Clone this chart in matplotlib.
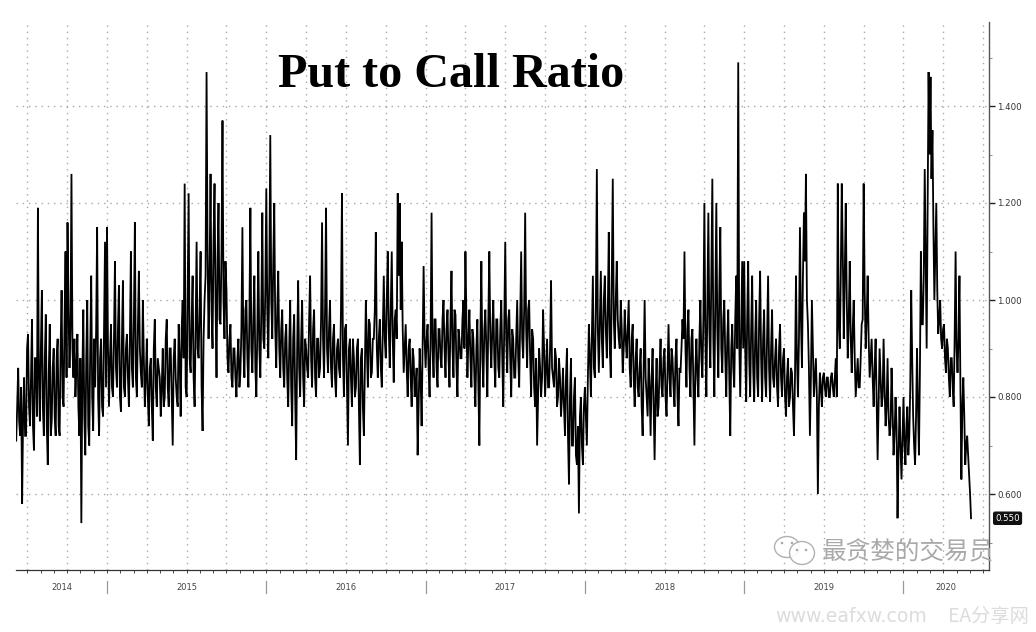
"""put to call ratio, daily line 2014-2020."""
import matplotlib
matplotlib.use("Agg")
import matplotlib.pyplot as plt
import numpy as np
from matplotlib.patches import Circle, Ellipse
from matplotlib.transforms import IdentityTransform, blended_transform_factory

plt.rcParams["font.family"] = ["Noto Sans CJK SC", "DejaVu Sans"]

TITLE = "Put to Call Ratio"
YEARS = [2014, 2015, 2016, 2017, 2018, 2019, 2020]
Y_TICKS = [0.6, 0.8, 1.0, 1.2, 1.4]
Y_MINOR = [0.5, 0.7, 0.9, 1.1, 1.3, 1.5]
LAST = 0.55

# spikes and troughs, one row is about 20 px
V2014 = [.71, .86, .72, .58, .84, .72, .93, .74, .96, .69,
         .88, 1.19, .75, 1.02, .72, .97, .66, .95, .75, .90,
         .72, .92, .72, 1.02, .78, 1.10, 1.16, .86, 1.26, .84,
         .80, .93, .72, .54, .98, .68, 1.0, .70, 1.05, .73,
         .82, 1.15, .72, .92, .76, 1.12]
V2015 = [1.15, .78, .95, .80, 1.08, .82, 1.03, .77, 1.04, .80,
         .93, .78, 1.10, .82, 1.16, .80, 1.06, .85, 1.00, .78,
         .92, .74, .88, .71, .96, .78, .86, .76, .90, .80,
         .96, .78, .90, .70, .92, .80, .95, .76, 1.0, 1.24,
         .80, 1.22, .85, 1.05, .78, 1.12, .88, 1.10, .73, 1.0,
         1.47, .92, 1.26, .90, 1.24, .84, 1.20, .95, 1.37, .92,
         1.02, .85, .95, .82, .90, .80, .92, .85, 1.15, .84,
         1.0, .82, 1.19, .85, 1.05, .80, 1.10, .84, 1.18, .90]
V2016 = [1.23, .88, 1.34, .92, 1.20, .86, 1.06, .84, .98, .82,
         .95, .78, 1.0, .74, .97, .67, 1.04, .80, 1.0, .78,
         .90, .84, 1.05, .82, .98, .80, .92, .86, 1.16, .84,
         1.19, .85, 1.0, .82, .95, .80, .92, .84, 1.22, .80,
         .95, .70, .92, .78, .88, .82, .92, .66, .90, .72,
         1.0, .82, .95, .85, .92, 1.14, .84, .96, .82, 1.05,
         .88, 1.1, .86, 1.1, .83, .98, 1.22, 1.2, 1.12, .85,
         .95, .80, .92, .78, .88, .82, .68, .90, .74, 1.07]
V2017 = [.86, .95, .80, 1.18, .84, .96, .82, .94, .86, 1.0,
         .84, .98, .82, 1.06, .84, .97, .80, .92, .88, 1.0,
         1.1, .84, .98, .82, .92, .78, .96, .70, 1.08, .82,
         .98, .80, 1.1, .86, 1.0, .82, .96, .84, 1.0, .78,
         1.12, .85, .98, .80, .92, .84, 1.0, .82, 1.1, .88,
         1.18, .86, 1.0, .80, .92, .78, .70, .90, .80, .98,
         .80, .92, .82, 1.04, .84, .90, .78, .88, .76, .86,
         .72, .90, .62, .88, .70, .84, .66, .56, .80, .66]
V2018 = [.82, .70, .95, .80, 1.05, .84, 1.27, .85, 1.06, .86,
         1.05, .88, 1.14, .84, 1.25, .90, 1.08, .92, 1.0, .85,
         .98, .88, 1.0, .82, .95, .78, .92, .80, .90, .72,
         1.0, .80, .88, .72, .90, .67, .88, .78, .92, .80,
         .90, .76, .95, .80, .88, .78, .92, .74, .85, .96,
         1.1, .82, .98, .80, .94, .70, .92, .80, 1.0, .84,
         1.2, .80, 1.18, .86, 1.25, .80, 1.2, .84, 1.15, .85,
         1.0, .80, .98, .72, .95, .82, 1.05, 1.49, .80, 1.08]
V2019 = [1.08, .79, 1.08, .80, 1.05, .79, 1.0, .80, 1.06, .79,
         .98, .80, 1.05, .79, .98, .82, .92, .78, .95, .80,
         .90, .76, .88, .80, .85, .72, 1.05, .80, 1.15, .86,
         1.18, 1.26, .95, .72, 1.0, .80, .88, .60, .85, .78,
         .85, .80, .84, .80, .85, .80, .88, 1.24, .90, 1.24,
         .92, 1.2, .88, 1.08, .85, 1.0, .80, .88, .82, .95,
         1.24, .90, 1.05, .84, .92, .78, .92, .67, .90, .78,
         .92, .74, .88, .72, .86, .68, .80, .55, .78, .63]
V2020 = [.80, .66, .78, .72, 1.02, .76, .66, .90, .68, 1.1,
         .95, 1.27, .90, 1.47, 1.46, 1.35, 1.0, 1.2, .93, 1.0,
         .90, .95, .85, .90, .80, .88, .78, 1.1, .85, 1.05,
         .63, .84, .66, .72, .64, .55]

# the dense black band between the spikes
C2014 = [.78, .75, .82, .76, .72, .90, .78, .84, .74, .88,
         .76, .84, .90, .78, .88, .74, .85, .72, .86, .76,
         .88, .74, .90, .80, .96, .84, .98, .94, .90, .92,
         .86, .78, .88, .84, .76, .88, .74, .90, .80, .92,
         .94, .80, .88, .78, .94, .82]
C2015 = [.90, .88, .82, .92, .86, .94, .80, .92, .82, .90,
         .84, .92, .86, .96, .84, .94, .90, .82, .88, .84,
         .80, .86, .78, .90, .82, .88, .84, .82, .78, .92,
         .82, .90, .80, .88, .84, .78, .88, .94, .88, .82,
         1.0, .88, .96, .84, .94, .90, .98, .82, .92, 1.05,
         1.1, 1.05, .98, 1.12, 1.0, 1.08, .96, 1.1, 1.0, 1.08,
         .88, .92, .84, .90, .84, .88, .82, .94, .90, .98,
         .88, .96, .90, .96, .86, .94, .90, .98, .92, 1.02]
C2016 = [.98, 1.05, 1.0, 1.08, .94, .98, .90, .94, .86, .92,
         .84, .90, .82, .92, .80, .90, .86, .92, .84, .92,
         .86, .96, .88, .94, .84, .92, .84, .96, .92, .98,
         .90, .94, .86, .92, .84, .90, .86, .98, .88, .94,
         .82, .90, .84, .92, .80, .90, .78, .88, .78, .86,
         .90, .96, .84, .92, .98, .90, .92, .86, .94, .92,
         1.0, .94, .98, .92, .96, .92, 1.05, .98, .94, .90,
         .86, .90, .84, .90, .80, .86, .78, .84, .90, .92]
C2017 = [.92, .86, .92, .90, .96, .86, .94, .88, .96, .90,
         .94, .88, .96, .90, .98, .86, .94, .88, .96, .90,
         .96, .92, .88, .94, .84, .90, .82, .92, .88, .94,
         .90, .96, .92, .94, .88, .96, .86, .94, .88, .96,
         .92, .96, .88, .94, .84, .92, .88, .96, .92, .98,
         .94, .98, .88, .94, .82, .88, .80, .86, .84, .90,
         .86, .82, .90, .86, .82, .88, .80, .84, .80, .78,
         .84, .72, .80, .70, .80, .68, .74, .76, .70, .78]
C2018 = [.76, .84, .88, .92, .86, .98, .94, .96, .92, 1.0,
         .94, .98, .90, 1.05, .96, 1.0, .96, .90, .94, .90,
         .92, .94, .86, .92, .84, .88, .82, .86, .78, .86,
         .84, .76, .82, .84, .78, .80, .76, .86, .82, .88,
         .80, .86, .84, .90, .82, .88, .80, .86, .90, .92,
         .90, .94, .86, .92, .82, .86, .84, .92, .88, .96,
         .92, 1.0, .94, 1.05, .92, 1.0, .94, 1.02, .90, .96,
         .88, .92, .84, .90, .86, .96, .90, .92, .94, .90]
C2019 = [.90, .96, .88, .94, .86, .92, .84, .96, .88, .92,
         .84, .92, .86, .90, .84, .88, .82, .90, .84, .88,
         .80, .84, .78, .86, .78, .84, .88, .92, .96, 1.05,
         1.08, 1.0, .86, .84, .90, .84, .80, .78, .82, .84,
         .82, .84, .80, .84, .82, .84, .80, .95, 1.05, 1.1,
         1.05, 1.0, .96, .92, .94, .88, .84, .82, .88, .96,
         1.02, .96, .92, .88, .84, .86, .80, .78, .84, .80,
         .82, .78, .76, .74, .78, .72, .74, .68, .70, .72]
C2020 = [.70, .74, .68, .82, .88, .70, .76, .78, .85, .95,
         1.05, 1.08, 1.2, 1.3, 1.25, 1.15, 1.1, 1.02, .96, .92,
         .94, .88, .92, .84, .88, .82, .92, .90, .92, .82,
         .78, .76, .70, .68, .60]

SERIES = [V2014, V2015, V2016, V2017, V2018, V2019, V2020]
BAND = [C2014, C2015, C2016, C2017, C2018, C2019, C2020]
SPANS = [(2014.43, 2015), (2015, 2016), (2016, 2017), (2017, 2018),
         (2018, 2019), (2019, 2020), (2020, 2020.43)]

W, H = 1036, 632
fig = plt.figure(figsize=(W / 100, H / 100), dpi=100)
ax = fig.add_axes([16 / W, 1 - 570 / H, (989 - 16) / W, (570 - 22) / H])

xs, ys = [], []
for vals, band, (a, b) in zip(SERIES, BAND, SPANS):
    merged = np.empty(len(vals) + len(band))
    merged[0::2] = vals
    merged[1::2] = band
    xs.extend(np.linspace(a, b, len(merged), endpoint=False))
    ys.extend(merged)
ax.plot(xs, ys, color="black", lw=1.3, solid_joinstyle="miter", zorder=3)

x0 = 2015 - 91 / 159.3
x1 = 2015 + 882 / 159.3
ax.set_xlim(x0, x1)
ax.set_ylim(0.6 - 76 / 485, 1.4 + 84 / 485)

for s in ["left", "top"]:
    ax.spines[s].set_visible(False)
ax.spines["right"].set_color("#555555")
ax.spines["right"].set_linewidth(1.0)
ax.spines["bottom"].set_color("#333333")
ax.spines["bottom"].set_linewidth(0.9)

ax.yaxis.tick_right()
ax.set_yticks(Y_TICKS)
ax.set_yticklabels([f"{v:.3f}" for v in Y_TICKS], fontsize=6.2, color="#333333",
                   family="DejaVu Sans")
ax.set_yticks(Y_MINOR, minor=True)
ax.tick_params(axis="y", which="major", length=4, width=1.0, color="#222222", pad=2)
ax.tick_params(axis="y", which="minor", length=2, width=0.6, color="#777777")

# quarters carry the grid, months only a tick
quarters = np.arange(2014.5, 2020.6, 0.25)
months = np.arange(2014.5, 2020.55, 1 / 12)
ax.set_xticks(quarters)
ax.set_xticklabels([])
ax.set_xticks(months, minor=True)
ax.tick_params(axis="x", which="both", length=2.2, width=0.7, color="#444444")
ax.grid(True, which="major", color="#a8a8a8", lw=1.0, ls=(0, (1, 3.5)))
ax.set_axisbelow(True)

# year labels and separators under the axis
tr = blended_transform_factory(ax.transData, fig.transFigure)
for i, yr in enumerate(YEARS):
    a = max(yr, x0)
    b = min(yr + 1, x1)
    fig.text((a + b) / 2, 1 - 588 / H, str(yr), transform=tr, fontsize=6.0,
             color="#444444", ha="center", va="center", family="DejaVu Sans")
    if i > 0:
        fig.add_artist(plt.Line2D([yr, yr], [1 - 581 / H, 1 - 593 / H], transform=tr,
                                  color="#999999", lw=0.9))

ax.annotate(f"{LAST:.3f}", xy=(1, LAST), xycoords=("axes fraction", "data"),
            xytext=(4.5, 0), textcoords="offset points", fontsize=6.2, color="white",
            va="center", ha="left", family="DejaVu Sans",
            bbox=dict(boxstyle="round,pad=0.18", fc="#111111", ec="#111111"))

fig.text(278 / W, 1 - 75 / H, TITLE, fontsize=34.7, fontweight="bold", color="black",
         family="Liberation Serif", ha="left", va="center")

# watermarks
wm = "#a9a9a9"
px = IdentityTransform()
for cx, cy, w, h in [(787, 547, 25, 21), (802, 553, 25, 23)]:
    fig.add_artist(Ellipse((cx, H - cy), w, h, transform=px, fc="white", ec=wm,
                           lw=1.0, alpha=0.9, zorder=5))
for cx, cy in [(782, 543), (792, 543), (797, 550), (806, 550)]:
    fig.add_artist(Circle((cx, H - cy), 1.3, transform=px, fc=wm, ec="none", zorder=6))
fig.text(822 / W, 1 - 552 / H, "最贪婪的交易员", fontsize=17.7, color=wm, ha="left",
         va="center", zorder=6)
fig.text(775 / W, 1 - 617 / H, "www.eafxw.com", fontsize=13.6, color="#dcdcdc",
         ha="left", va="center", family="DejaVu Sans")
fig.text(948 / W, 1 - 616 / H, "EA分享网", fontsize=13.9, color="#dcdcdc", ha="left",
         va="center")

fig.savefig("out.png", dpi=100)
